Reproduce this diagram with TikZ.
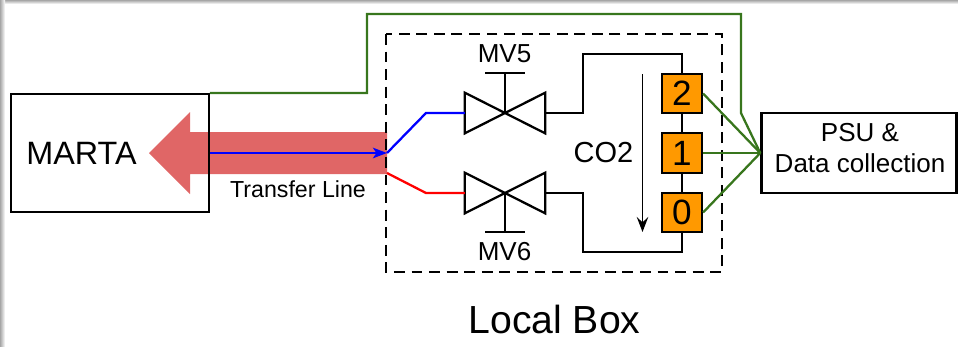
\documentclass[tikz,border=0pt]{standalone}
\usepackage{fontspec}
\usetikzlibrary{arrows.meta}
\setmainfont{Liberation Sans}
\definecolor{pipered}{HTML}{E06666}
\definecolor{wiregreen}{HTML}{38761D}
\definecolor{sensororange}{HTML}{FF9900}
\tikzset{
    box/.style={draw, line width=1.3pt, inner sep=0pt},
    valve/.style={minimum width=45.3pt, minimum height=22.7pt, inner sep=0pt},
    sensor/.style={draw, line width=1.3pt, fill=sensororange, inner sep=0pt, minimum width=22.7pt, minimum height=22.4pt, font=\fontsize{20}{20}\selectfont},
    pipe/.style={line width=1.3pt},
    wire/.style={line width=1.3pt, wiregreen},
    label14/.style={inner sep=0pt, font=\fontsize{14.8}{14.8}\selectfont}
}
\begin{document}
\begin{tikzpicture}[x=0.02cm, y=-0.02cm]
    \useasboundingbox (0,0) rectangle (958,346);
    % Ombra del bordo
    \shade[top color=black!35, bottom color=white] (0,0) rectangle (958,4);
    \shade[left color=black!35, right color=white] (0,0) rectangle (5,346);

    % Freccia della linea di trasferimento
    \fill[pipered] (387,132) -- (190,132) -- (190,112) -- (149,153) -- (190,194) -- (190,174) -- (387,174) -- cycle;

    % Riquadri principali
    \node[box, minimum width=112.3pt, minimum height=66.9pt] (marta) at (110,153) {};
    \node[inner sep=0pt, font=\fontsize{18.4}{18.4}\selectfont] (marta_text) at (81.5,153) {MARTA};
    \node[box, minimum width=111.1pt, minimum height=45.3pt] (psu) at (859,153) {};
    \node[inner sep=0pt, align=center, font=\fontsize{14.8}{17.6}\selectfont] (psu_text) at (860,148) {PSU \&\\Data collection};
    \draw[line width=1.3pt, dashed, dash pattern=on 6.2pt off 3.8pt] (386,34) rectangle (722,272);
    \node[inner sep=0pt, font=\fontsize{22.3}{22.3}\selectfont] (local_box) at (554.5,319) {Local Box};
    \node[inner sep=0pt, font=\fontsize{13.2}{13.2}\selectfont] (transfer) at (298,189) {Transfer Line};

    % Valvole
    \node[valve] (mv5) at (505,113) {};
    \node[valve] (mv6) at (505,193) {};
    \coordinate (mv5_bar) at (505,73);
    \coordinate (mv6_bar) at (505,232);
    \draw[pipe, line join=miter] (mv5.north west) -- (mv5.south east) -- (mv5.north east) -- (mv5.south west) -- cycle;
    \draw[pipe, line join=miter] (mv6.north west) -- (mv6.south east) -- (mv6.north east) -- (mv6.south west) -- cycle;
    \draw[pipe] (mv5.center) -- (mv5_bar);
    \draw[pipe] (mv6.center) -- (mv6_bar);
    \draw[pipe] ([xshift=-11.3pt]mv5_bar) -- ([xshift=11.3pt]mv5_bar);
    \draw[pipe] ([xshift=-11.3pt]mv6_bar) -- ([xshift=11.3pt]mv6_bar);
    \node[label14] (mv5_text) at (504.5,54) {MV5};
    \node[label14] (mv6_text) at (504.5,252) {MV6};

    % Sensori
    \foreach \name/\ypos in {2/93.5, 1/153, 0/212.5} {
        \node[sensor] (s\name) at (682,\ypos) {\name};
    }

    % Tubi
    \coordinate (top_bend) at (583,54);
    \coordinate (bottom_bend) at (583,252);
    \draw[pipe] (mv5.east) -| (top_bend) -| (s2.north);
    \draw[pipe] (mv6.east) -| (bottom_bend) -| (s0.south);
    \draw[pipe] (s2) -- (s1);
    \draw[pipe] (s1) -- (s0);

    % Flusso di CO2
    \node[inner sep=0pt, font=\fontsize{16.5}{16.5}\selectfont] (co2) at (603.5,153) {CO2};
    \coordinate (flow_a) at (642.5,74);
    \coordinate (flow_b) at (642.5,232);
    \draw[-{Stealth[length=8.5pt, width=6.5pt, inset=3pt]}, line width=0.9pt] (flow_a) -- (flow_b);

    % Linee colorate
    \coordinate (split) at (387,153);
    \coordinate (split_red) at (387,173);
    \coordinate (blue_bend) at (426,113);
    \coordinate (red_bend) at (426,193);
    \draw[-{Stealth[length=8pt, width=6pt, inset=2pt]}, line width=1.2pt, blue] (marta.east) -- (split);
    \draw[line width=1.3pt, blue] (split) -- (blue_bend) -- (mv5.west);
    \draw[line width=1.3pt, red] (split_red) -- (red_bend) -- (mv6.west);

    % Collegamenti dati
    \coordinate (wire_top) at (367,14);
    \coordinate (wire_down) at (741,113);
    \draw[wire] (marta.north east) -| (wire_top) -| (wire_down) -- (psu.west);
    \draw[wire] (s2.east) -- (psu.west);
    \draw[wire] (s1.east) -- (psu.west);
    \draw[wire] (s0.east) -- (psu.west);
\end{tikzpicture}
\end{document}
